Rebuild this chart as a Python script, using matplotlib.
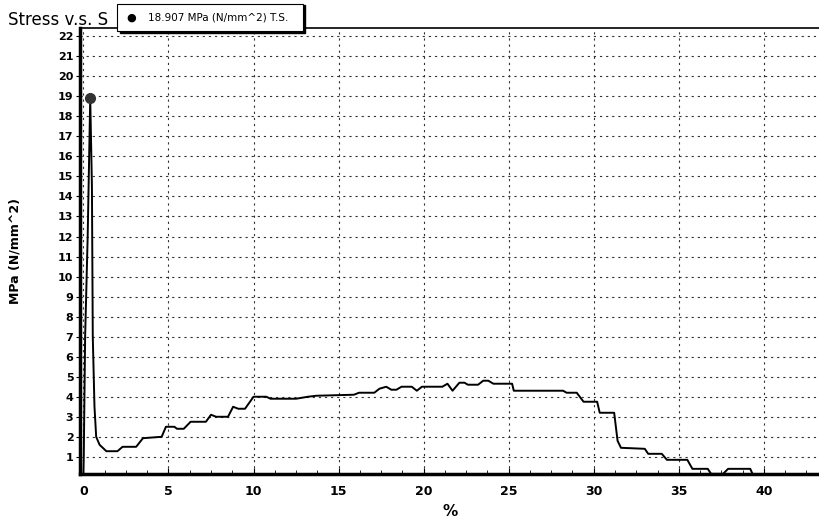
import matplotlib.pyplot as plt
from matplotlib.patches import Rectangle
import numpy as np

# strain (%) and stress (MPa)
strain = [0.0, 0.02, 0.1, 0.25, 0.4, 0.5, 0.55, 0.65, 0.75, 0.95, 1.35, 2.0, 2.3, 3.1,
          3.5, 4.6, 4.85, 5.35, 5.5, 5.9, 6.3, 7.2, 7.5, 7.8, 8.5, 8.8, 9.1, 9.5,
          10.0, 10.75, 11.0, 12.5, 13.2, 13.7, 15.9, 16.2, 17.1, 17.4, 17.8, 18.1,
          18.4, 18.7, 19.3, 19.6, 19.9, 21.1, 21.4, 21.7, 22.1, 22.4, 22.6, 23.2,
          23.5, 23.8, 24.1, 25.2, 25.3, 28.2, 28.4, 29.0, 29.4, 30.2, 30.35, 31.2,
          31.4, 31.6, 33.0, 33.2, 34.0, 34.3, 35.5, 35.8, 36.7, 36.9, 37.6, 37.9,
          39.2, 39.35]
stress = [0.15, 1.0, 7.0, 12.0, 16.5, 14.5, 7.0, 3.5, 2.0, 1.6, 1.28, 1.28, 1.5, 1.5,
          1.93, 2.0, 2.5, 2.5, 2.4, 2.4, 2.75, 2.75, 3.1, 3.0, 3.0, 3.5, 3.4, 3.4,
          4.0, 4.0, 3.9, 3.9, 4.0, 4.05, 4.1, 4.2, 4.2, 4.4, 4.5, 4.35,
          4.35, 4.5, 4.5, 4.3, 4.5, 4.5, 4.65, 4.3, 4.7, 4.7, 4.6, 4.6,
          4.8, 4.8, 4.65, 4.65, 4.3, 4.3, 4.2, 4.2, 3.75, 3.75, 3.2, 3.2,
          1.8, 1.45, 1.4, 1.15, 1.15, 0.85, 0.85, 0.4, 0.4, 0.15, 0.15, 0.4,
          0.4, 0.12]
peak_x, peak_y = 0.4, 18.907

fig = plt.figure(figsize=(8.2, 5.23), dpi=100)
ax = fig.add_axes([0.098, 0.094, 0.902, 0.852])

# insert the peak into the curve
xs = strain[:4] + [peak_x] + strain[5:]
ys = stress[:4] + [peak_y] + stress[5:]
ax.plot(xs, ys, color='black', lw=1.4, zorder=3)
ax.plot(peak_x, peak_y, 'o', color='#333333', ms=7, zorder=4)

ax.set_xlim(-0.18, 43.3)
ax.set_ylim(0.15, 22.4)
ax.set_xticks(np.arange(0, 45, 5))
ax.set_xticks(np.arange(0, 43.3, 1.25), minor=True)
ax.set_yticks(np.arange(1, 23, 1))

ax.grid(True, which='major', color='#333333', linestyle=(0, (2, 3.5)), lw=0.8)
ax.tick_params(axis='x', which='major', direction='in', length=4, labelsize=9, pad=8)
ax.tick_params(axis='x', which='minor', direction='in', length=3)
ax.tick_params(axis='y', direction='out', length=3, labelsize=8, pad=2)
for lbl in ax.get_xticklabels() + ax.get_yticklabels():
    lbl.set_fontweight('bold')

ax.spines['left'].set_linewidth(2.5)
ax.spines['bottom'].set_linewidth(2.5)
ax.spines['top'].set_linewidth(1.2)
ax.spines['right'].set_visible(False)

ax.set_xlabel('%', fontsize=11, fontweight='bold', labelpad=4)
ax.set_ylabel('MPa (N/mm^2)', fontsize=9, fontweight='bold', labelpad=26)

fig.text(0.010, 0.962, 'Stress v.s. S', fontsize=12, va='center', ha='left')

# legend-like box with a thin shadow on right and bottom
fig.patches.append(Rectangle((0.146, 0.936), 0.226, 0.054, transform=fig.transFigure,
                             facecolor='black', edgecolor='black', zorder=5))
fig.patches.append(Rectangle((0.143, 0.940), 0.226, 0.052, transform=fig.transFigure,
                             facecolor='white', edgecolor='black', lw=0.8, zorder=6))
fig.text(0.160, 0.966, '\u25cf', fontsize=8, va='center', ha='center', zorder=7)
fig.text(0.180, 0.966, '18.907 MPa (N/mm^2) T.S.', fontsize=7.5, va='center', ha='left', zorder=7)

fig.savefig('out.png', dpi=100)
